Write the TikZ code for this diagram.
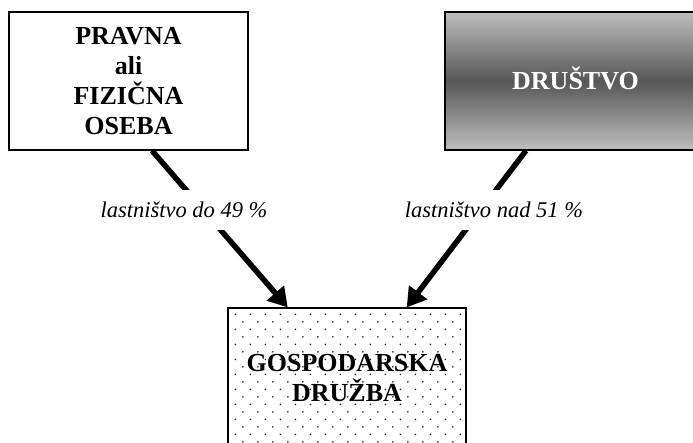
\documentclass[tikz,border=0pt]{standalone}
\usepackage{fontspec}
\setmainfont{Liberation Serif}
\usetikzlibrary{arrows.meta,backgrounds}
\definecolor{svetla}{HTML}{BEBEBE}
\definecolor{temna}{HTML}{575757}
\tikzset{
	skatla/.style = {align=center, inner sep=0pt, text centered, draw=black,
		line width=1.2pt, font=\fontsize{26}{30}\selectfont\bfseries},
	skatla_b/.style = {skatla, fill=white, minimum width=239pt,
		minimum height=138pt},% bela skatla
	skatla_s/.style = {skatla, top color=svetla, bottom color=svetla,
		middle color=temna, text=white, text height=17pt,
		minimum width=261pt, minimum height=138pt},% siva skatla
	skatla_p/.style = {skatla, minimum width=238pt,
		minimum height=141pt},% skatla s pikami
	pika/.style = {fill=black!90},% pika v vzorcu
	opis/.style = {fill=white, inner sep=0pt, minimum height=40pt,
		font=\fontsize{22.5}{27}\selectfont\itshape}% opis puscice
}
\begin{document}
\begin{tikzpicture}[x=1pt, y=-1pt, ->, >={Triangle[length=19pt, width=22pt]}]
	\useasboundingbox (0,0) rectangle (693,443);
	\clip (0,0) rectangle (693,443);
	\node [skatla_b] (pfo) at (128.5,81) {PRAVNA\\ali\\FIZIČNA\\OSEBA};
	\node [skatla_s] (drs) at (575.5,81) {DRUŠTVO};
	\node [skatla_p] (gd) at (347,378.5) {GOSPODARSKA\\DRUŽBA};
	% vzorec pik
	\begin{scope}[on background layer]
		\clip (gd.south west) rectangle (gd.north east);
		\foreach \i in {0,...,15}
			\foreach \j in {0,...,9} {
				\fill [pika] ([shift={(8+15*\i, 7+15*\j)}]gd.north west) circle (0.9pt);
				\fill [pika] ([shift={(15.5+15*\i, 14.5+15*\j)}]gd.north west) circle (0.9pt);
			}
	\end{scope}
	\draw [line width=5.5pt] ([xshift=23.5pt]pfo.south)
		-- node [opis, pos=0.38, xshift=-19.6pt] {lastništvo do 49 \%}
		([xshift=-59.3pt]gd.north);
	\draw [line width=5.5pt] ([xshift=-49.5pt]drs.south)
		-- node [opis, pos=0.38, xshift=13.3pt] {lastništvo nad 51 \%}
		([xshift=59.7pt]gd.north);
\end{tikzpicture}
\end{document}
